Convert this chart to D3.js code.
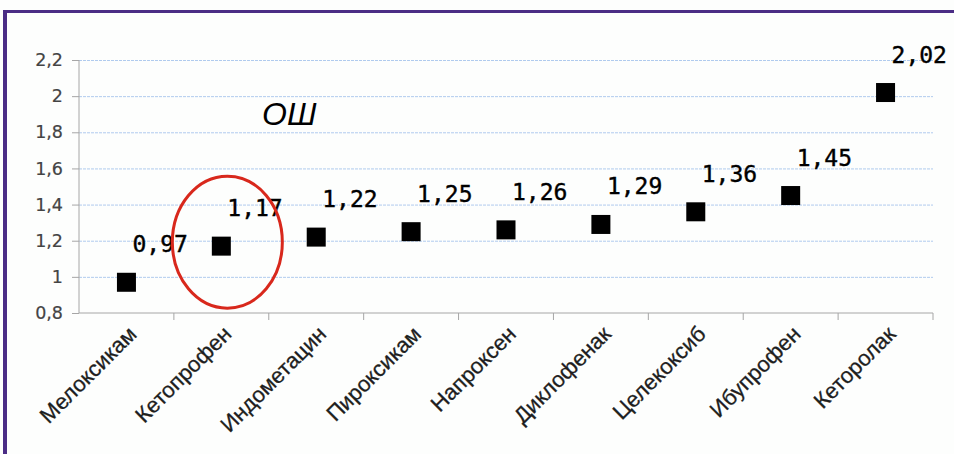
<!DOCTYPE html>
<html><head><meta charset="utf-8">
<script src="https://cdn.jsdelivr.net/npm/d3@7"></script>
<style>
html,body{margin:0;padding:0;background:#fdfefd;}
svg{display:block;}
</style></head>
<body>
<script>
const categories = ["Мелоксикам","Кетопрофен","Индометацин","Пироксикам","Напроксен","Диклофенак","Целекоксиб","Ибупрофен","Кеторолак"];
const values = [0.97,1.17,1.22,1.25,1.26,1.29,1.36,1.45,2.02];
const valueLabels = ["0,97","1,17","1,22","1,25","1,26","1,29","1,36","1,45","2,02"];
const yTicks = [0.8,1.0,1.2,1.4,1.6,1.8,2.0,2.2];
const yTickLabels = ["0,8","1","1,2","1,4","1,6","1,8","2","2,2"];
const title = "ОШ";
const highlighted = "Кетопрофен";

const W = 954, H = 454;
const svg = d3.select("body").append("svg").attr("width", W).attr("height", H);
svg.append("rect").attr("width", W).attr("height", H).attr("fill", "#fdfefd");

const x = d3.scaleBand().domain(categories).range([79, 933]).padding(0);
const y = d3.scaleLinear().domain([0.8, 2.2]).range([313, 60]);

// gridlines
const grid = svg.append("g").attr("transform", "translate(79,0)")
  .call(d3.axisLeft(y).tickValues(yTicks.filter(v => v > 0.8)).tickSize(-(933 - 79)).tickFormat(""));
grid.select(".domain").remove();
grid.selectAll("line").attr("stroke", "#b0cbee").attr("stroke-width", 1).attr("stroke-dasharray", "3,1");

// y axis
const yAx = svg.append("g").attr("transform", "translate(79,0)")
  .call(d3.axisLeft(y).tickValues(yTicks).tickSize(7).tickPadding(9)
    .tickFormat((d, i) => yTickLabels[i]));
yAx.select(".domain").attr("stroke", "#a6a6a6").attr("d", "M0,60V313");
yAx.selectAll(".tick line").attr("stroke", "#a6a6a6");
yAx.selectAll(".tick text").attr("font-family", "DejaVu Sans").attr("font-size", 17.5).attr("fill", "#444")
  .attr("stroke", "#444").attr("stroke-width", 0.2);

// x axis line with boundary ticks
const xAx = svg.append("g").attr("transform", "translate(0,313)")
  .call(d3.axisBottom(x).tickSize(0).tickFormat(""));
xAx.select(".domain").attr("stroke", "#a6a6a6").attr("d", "M79,0H933");
const bounds = categories.map(c => x(c) + x.bandwidth());
xAx.selectAll(".bt").data(bounds).enter().append("line")
  .attr("x1", d => d).attr("x2", d => d).attr("y1", 0).attr("y2", 7)
  .attr("stroke", "#a6a6a6");

// x labels
svg.append("g").selectAll("text").data(categories).enter().append("text")
  .attr("transform", d => `translate(${x(d) + x.bandwidth() / 2 + 6},${330}) rotate(-45)`)
  .attr("text-anchor", "end")
  .attr("dy", "0.35em")
  .attr("font-family", "Liberation Sans, Arial, sans-serif")
  .attr("font-size", 22)
  .attr("fill", "#1e1e1e")
  .attr("stroke", "#1e1e1e").attr("stroke-width", 0.3)
  .text(d => d);

// markers
const ms = 19;
svg.append("g").selectAll("rect").data(values).enter().append("rect")
  .attr("x", (d, i) => x(categories[i]) + x.bandwidth() / 2 - ms / 2)
  .attr("y", d => y(d) - ms / 2)
  .attr("width", ms).attr("height", ms)
  .attr("fill", "#000");

// data labels
svg.append("g").selectAll("text").data(values).enter().append("text")
  .attr("x", (d, i) => x(categories[i]) + x.bandwidth() / 2 + 6)
  .attr("y", d => y(d) - 30)
  .attr("font-family", "DejaVu Sans Mono, monospace")
  .attr("font-size", 23)
  .attr("fill", "#000")
  .attr("stroke", "#000").attr("stroke-width", 0.4)
  .text((d, i) => valueLabels[i]);

// title
svg.append("text").attr("x", 262).attr("y", 125)
  .attr("font-family", "Liberation Sans, Arial, sans-serif")
  .attr("font-style", "italic").attr("font-size", 32).attr("fill", "#000")
  .text(title);

// red ellipse around highlighted
const hi = categories.indexOf(highlighted);
svg.append("ellipse")
  .attr("cx", x(highlighted) + x.bandwidth() / 2 + 6)
  .attr("cy", y(values[hi]) - 4)
  .attr("rx", 55).attr("ry", 66)
  .attr("fill", "none").attr("stroke", "#d8281c").attr("stroke-width", 3);

// frame border
svg.append("rect").attr("x", 3).attr("y", 10).attr("width", W - 3).attr("height", 3).attr("fill", "#4b2d85");
svg.append("rect").attr("x", 3).attr("y", 10).attr("width", 4).attr("height", H - 10).attr("fill", "#4b2d85");
</script>
</body></html>
